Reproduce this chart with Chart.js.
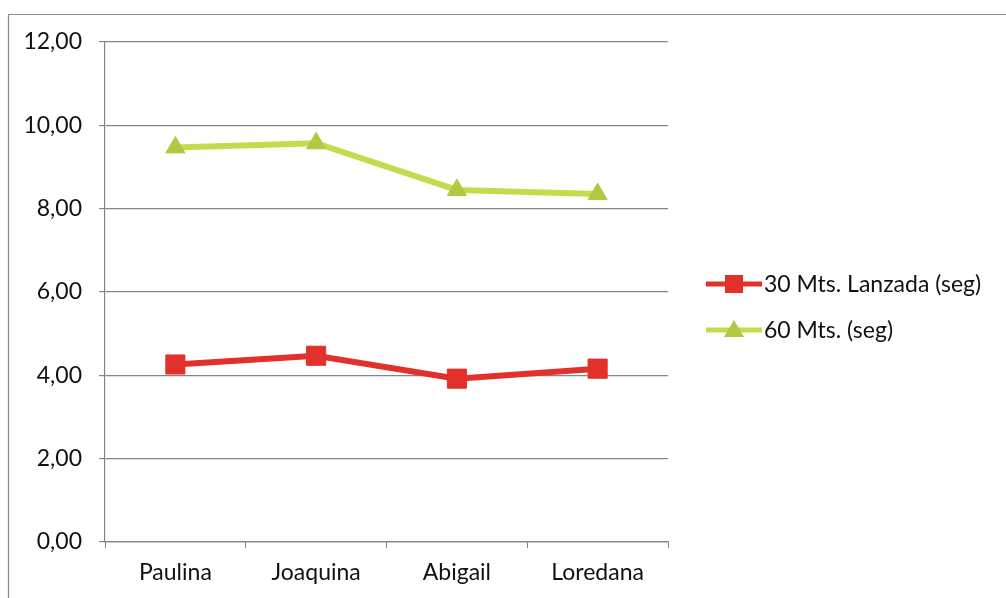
<!DOCTYPE html>
<html>
<head>
<meta charset="utf-8">
<script src="https://cdn.jsdelivr.net/npm/chart.js@4/dist/chart.umd.min.js"></script>
<style>
  html, body { margin: 0; padding: 0; background: #ffffff; }
  #wrap { position: relative; width: 1006px; height: 598px; }
</style>
</head>
<body>
<div id="wrap"><canvas id="c" width="1006" height="598"></canvas></div>
<script>
// Athletes and their times (seconds)
const categories = ['Paulina', 'Joaquina', 'Abigail', 'Loredana'];
const lanzada30 = [4.26, 4.47, 3.92, 4.16];
const metros60 = [9.47, 9.57, 8.45, 8.35];
const seriesNames = ['30 Mts. Lanzada (seg)', '60 Mts. (seg)'];
const yTicks = [0, 2, 4, 6, 8, 10, 12];

const FONT = 'Lato, "Open Sans", sans-serif';
const TEXT = '#111111';
const GRID = '#858585';
const RED = '#e2302a';
const GREEN_LINE = '#c6da4c';
const GREEN_MARK = '#b3c842';

// Outer frame of the chart (top and left edges)
const framePlugin = {
  id: 'frame',
  beforeDraw(chart) {
    const ctx = chart.ctx;
    ctx.save();
    ctx.strokeStyle = '#8c8c8c';
    ctx.lineWidth = 1.2;
    ctx.beginPath();
    ctx.moveTo(8.5, 598);
    ctx.lineTo(8.5, 14.5);
    ctx.lineTo(1006, 14.5);
    ctx.stroke();
    ctx.restore();
  }
};

// Legend drawn to the right of the plot: line, marker, label
const sideLegend = {
  id: 'sideLegend',
  afterDraw(chart) {
    const ctx = chart.ctx;
    const x0 = 706, x1 = 762, textX = 764;
    const rows = [284, 330];
    ctx.save();
    chart.data.datasets.forEach((ds, i) => {
      const y = rows[i];
      const cx = (x0 + x1) / 2;
      ctx.strokeStyle = ds.borderColor;
      ctx.lineWidth = 5;
      ctx.beginPath();
      ctx.moveTo(x0, y);
      ctx.lineTo(x1, y);
      ctx.stroke();
      ctx.fillStyle = ds.pointBackgroundColor;
      if (ds.pointStyle === 'rect') {
        ctx.fillRect(cx - 9, y - 9, 18, 18);
      } else {
        ctx.beginPath();
        ctx.moveTo(cx, y - 10);
        ctx.lineTo(cx + 10, y + 7);
        ctx.lineTo(cx - 10, y + 7);
        ctx.closePath();
        ctx.fill();
      }
      ctx.fillStyle = TEXT;
      ctx.font = '23px ' + FONT;
      ctx.textAlign = 'left';
      ctx.textBaseline = 'middle';
      ctx.fillText(ds.label, textX, y + 1);
    });
    ctx.restore();
  }
};

new Chart(document.getElementById('c'), {
  type: 'line',
  data: {
    labels: categories,
    datasets: [
      {
        label: seriesNames[0],
        data: lanzada30,
        borderColor: RED,
        backgroundColor: RED,
        pointBackgroundColor: RED,
        pointBorderColor: RED,
        borderWidth: 6,
        pointStyle: 'rect',
        pointRadius: 13.5,
        pointBorderWidth: 1,
        tension: 0
      },
      {
        label: seriesNames[1],
        data: metros60,
        borderColor: GREEN_LINE,
        backgroundColor: GREEN_MARK,
        pointBackgroundColor: GREEN_MARK,
        pointBorderColor: GREEN_MARK,
        borderWidth: 6,
        pointStyle: 'triangle',
        pointRadius: 11,
        pointBorderWidth: 1,
        tension: 0
      }
    ]
  },
  options: {
    responsive: false,
    animation: false,
    events: [],
    layout: { padding: { top: 42, right: 338, left: 0, bottom: 0 } },
    plugins: {
      legend: { display: false },
      tooltip: { enabled: false }
    },
    scales: {
      x: {
        offset: true,
        afterFit(scale) { scale.height = 56; },
        grid: {
          offset: true,
          drawOnChartArea: false,
          drawTicks: true,
          tickLength: 6,
          color: GRID,
          lineWidth: 1
        },
        border: { display: true, color: GRID, width: 1.2 },
        ticks: {
          color: TEXT,
          padding: 11,
          font: { family: FONT, size: 23 }
        }
      },
      y: {
        min: 0,
        max: 12,
        afterFit(scale) { scale.width = 105; },
        afterBuildTicks(scale) { scale.ticks = yTicks.map(v => ({ value: v })); },
        grid: {
          color: GRID,
          lineWidth: 1.2,
          drawTicks: true,
          tickLength: 6
        },
        border: { display: true, color: GRID, width: 1.2 },
        ticks: {
          color: TEXT,
          padding: 17,
          font: { family: FONT, size: 23 },
          callback: v => v.toFixed(2).replace('.', ',')
        }
      }
    }
  },
  plugins: [framePlugin, sideLegend]
});
</script>
</body>
</html>
